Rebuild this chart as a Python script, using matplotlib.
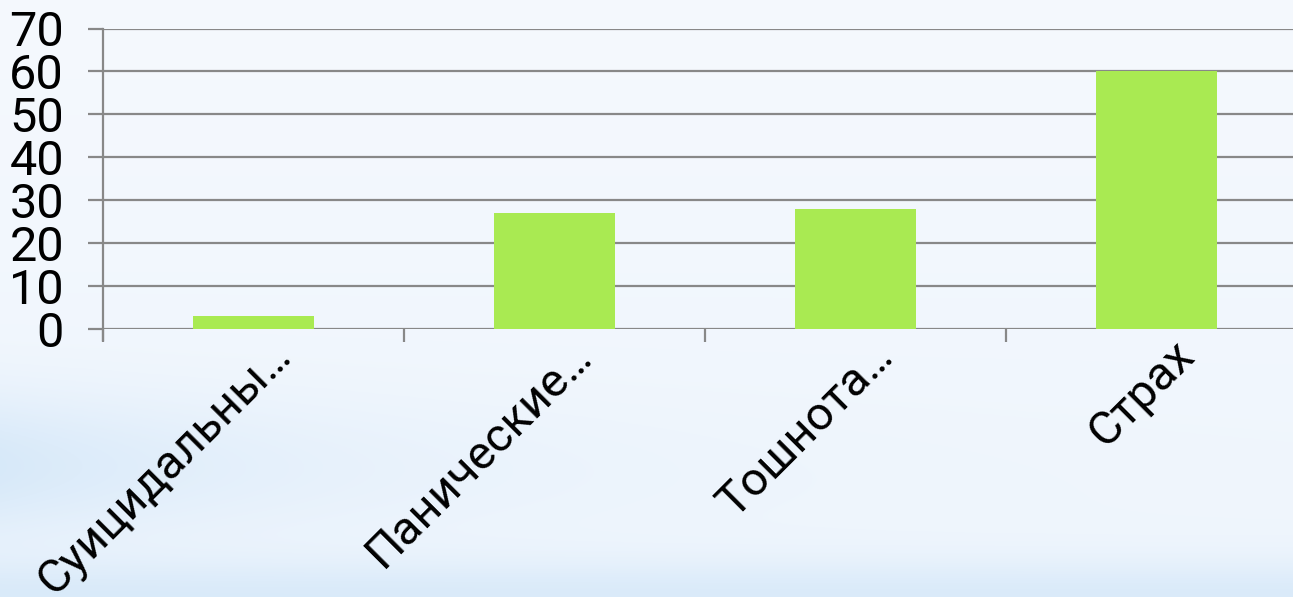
import numpy as np
import matplotlib.pyplot as plt
from matplotlib.transforms import ScaledTranslation

categories = ['Суицидальны…', 'Панические…', 'Тошнота…', 'Страх']
values = [3, 27, 28, 60]
yticks = [0, 10, 20, 30, 40, 50, 60, 70]

plt.rcParams['font.family'] = ['Roboto', 'DejaVu Sans']

fig = plt.figure(figsize=(12.93, 5.97), dpi=100)

# soft blue background
bg = fig.add_axes([0, 0, 1, 1], zorder=-10)
yy, xx = np.mgrid[0:1:300j, 0:1:600j]
band = np.exp(-((yy - 0.22) / 0.12) ** 2) * np.exp(-xx / 0.25) * 0.6
bottom = np.exp(-(yy / 0.06) ** 2) * 0.5
t = np.clip(band + bottom + 0.15 * (1 - yy), 0, 1)
c0 = np.array([0.96, 0.975, 0.995])
c1 = np.array([0.80, 0.89, 0.97])
img = c0 * (1 - t[..., None]) + c1 * t[..., None]
bg.imshow(img, origin='lower', aspect='auto', extent=[0, 1, 0, 1])
bg.axis('off')

ax = fig.add_axes([103 / 1293, 1 - 329 / 597, 1204 / 1293, 300.5 / 597])
ax.patch.set_alpha(0)
x = np.arange(len(categories))
ax.bar(x, values, width=0.4, color='#a9ea52', zorder=3)

ax.set_xlim(-0.5, len(categories) - 0.5)
ax.set_ylim(0, 70)
ax.set_yticks(yticks)
ax.yaxis.grid(True, color='#888888', linewidth=1.6, zorder=0)
ax.tick_params(axis='y', length=11, width=1.6, color='#888888', pad=17,
               labelsize=35)
for lab in ax.get_yticklabels():
    lab.set_fontstretch('condensed')
for s in ['top', 'right', 'bottom']:
    ax.spines[s].set_visible(False)
ax.spines['left'].set_color('#888888')
ax.spines['left'].set_linewidth(1.6)
ax.spines['left'].set_bounds(-2.6, 70)

ax.set_xticks(x)
ax.set_xticks(np.arange(len(categories) + 1) - 0.5, minor=True)
ax.tick_params(axis='x', which='major', length=0, pad=14)
ax.tick_params(axis='x', which='minor', length=9, width=1.6, color='#888888')
ax.set_xticklabels(categories, rotation=45, ha='right', va='center',
                   rotation_mode='anchor', fontsize=34)
off = ScaledTranslation(22 / 72, 0, fig.dpi_scale_trans)
for lab in ax.get_xticklabels():
    lab.set_transform(lab.get_transform() + off)

fig.savefig('out.png', dpi=100)
